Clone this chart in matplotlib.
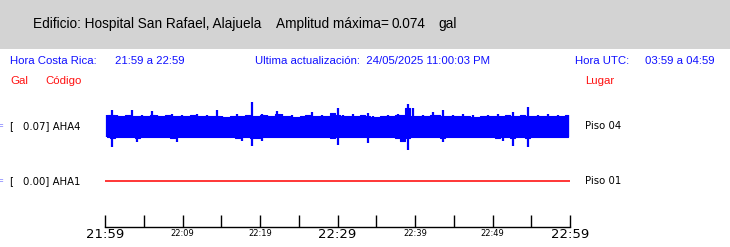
import numpy as np
import matplotlib.pyplot as plt
from matplotlib import font_manager
from matplotlib.patches import Rectangle

# envelope of the AHA4 record (gal), one value per ~0.65 min bin
aha4_upper = [0.034, 0.049, 0.034, 0.031, 0.034, 0.049, 0.031, 0.034, 0.031, 0.046,
              0.034, 0.031, 0.034, 0.037, 0.031, 0.034, 0.031, 0.034, 0.037, 0.031,
              0.034, 0.031, 0.049, 0.031, 0.028, 0.031, 0.037, 0.031, 0.034, 0.074,
              0.031, 0.037, 0.034, 0.031, 0.046, 0.037, 0.031, 0.034, 0.028, 0.031,
              0.034, 0.043, 0.031, 0.034, 0.031, 0.040, 0.055, 0.034, 0.031, 0.037,
              0.031, 0.034, 0.040, 0.031, 0.028, 0.031, 0.034, 0.031, 0.037, 0.034,
              0.068, 0.055, 0.031, 0.034, 0.031, 0.043, 0.034, 0.049, 0.031, 0.034,
              0.031, 0.037, 0.031, 0.034, 0.028, 0.031, 0.034, 0.031, 0.037, 0.031,
              0.034, 0.043, 0.031, 0.034, 0.059, 0.031, 0.034, 0.031, 0.037, 0.031,
              0.034, 0.031, 0.034]
aha4_lower = [-0.034, -0.065, -0.037, -0.034, -0.037, -0.034, -0.049, -0.037, -0.034, -0.037,
              -0.034, -0.037, -0.034, -0.037, -0.049, -0.034, -0.037, -0.034, -0.037, -0.034,
              -0.037, -0.034, -0.037, -0.034, -0.037, -0.034, -0.037, -0.046, -0.034, -0.062,
              -0.037, -0.046, -0.034, -0.037, -0.034, -0.037, -0.034, -0.037, -0.034, -0.037,
              -0.034, -0.037, -0.034, -0.037, -0.034, -0.037, -0.059, -0.034, -0.037, -0.034,
              -0.037, -0.034, -0.052, -0.034, -0.037, -0.034, -0.037, -0.034, -0.037, -0.046,
              -0.074, -0.037, -0.034, -0.037, -0.034, -0.037, -0.034, -0.049, -0.037, -0.034,
              -0.037, -0.034, -0.037, -0.034, -0.037, -0.034, -0.037, -0.034, -0.037, -0.046,
              -0.034, -0.062, -0.037, -0.034, -0.065, -0.037, -0.034, -0.037, -0.034, -0.037,
              -0.034, -0.037, -0.034]
aha1_level = [0.0, 0.0]

tick_minutes = [0, 5, 10, 15, 20, 25, 30, 35, 40, 45, 50, 55, 60]
big_labels = {0: "21:59", 30: "22:29", 60: "22:59"}
small_labels = {10: "22:09", 20: "22:19", 40: "22:39", 50: "22:49"}

W, H = 730, 247
fig = plt.figure(figsize=(W / 100, H / 100), dpi=100)


def fx(x):
    return x / W


def fy(y):
    return 1 - y / H


def txt(x, y, s, **kw):
    kw.setdefault("va", "center")
    kw.setdefault("ha", "left")
    fig.text(fx(x), fy(y), s, **kw)


# grey title band
fig.patches.append(Rectangle((0, fy(49)), 1, 49 / H, transform=fig.transFigure,
                             facecolor="#d3d3d3", edgecolor="none", zorder=0))

# title font is a narrow sans; fall back to a smaller regular one if missing
names = {f.name for f in font_manager.fontManager.ttflist}
if "Liberation Sans Narrow" in names:
    tfam, tsize = "Liberation Sans Narrow", 11.8
else:
    tfam, tsize = "Liberation Sans", 9.8
txt(33, 24, "Edificio: Hospital San Rafael, Alajuela", family=tfam, fontsize=tsize)
txt(276, 24, "Amplitud máxima=", family=tfam, fontsize=tsize)
txt(391, 24, "0.074", family=tfam, fontsize=tsize)
txt(438, 24, "gal", family=tfam, fontsize=tsize)

sans = ["Liberation Sans", "DejaVu Sans"]
blue = "#1010ff"
red = "#ff1010"
txt(10, 61, "Hora Costa Rica:", family=sans, fontsize=8.2, color=blue)
txt(115, 61, "21:59 a 22:59", family=sans, fontsize=8.2, color=blue)
txt(255, 61, "Ultima actualización:  24/05/2025 11:00:03 PM", family=sans, fontsize=8.2, color=blue)
txt(575, 61, "Hora UTC:", family=sans, fontsize=8.2, color=blue)
txt(645, 61, "03:59 a 04:59", family=sans, fontsize=8.2, color=blue)
txt(10, 81, "Gal", family=sans, fontsize=8.2, color=red)
txt(45, 81, "Código", family=sans, fontsize=8.2, color=red)
txt(585, 81, "Lugar", family=sans, fontsize=8.2, color=red)

# station labels
rows = [(126, "0.07] AHA4", "Piso 04"), (181, "0.00] AHA1", "Piso 01")]
for y, lab, piso in rows:
    txt(-4, y, "=", fontsize=7, color="#9090ff")
    txt(9, y, "[", fontsize=7.3)
    txt(23, y, lab, fontsize=7.3)
    txt(585, y, piso, fontsize=7.3)

x0, x1 = 105, 570

# AHA4 trace: body from neighbouring minima, each bin's full swing as a thin stroke
ax1 = fig.add_axes([fx(x0), fy(150), (x1 - x0) / W, 48 / H])
up = np.array(aha4_upper)
lo = np.array(aha4_lower)
t4 = np.linspace(0.3, 59.7, len(up))
body_up = np.minimum(up, np.r_[up[1:], up[-1]])
body_lo = np.maximum(lo, np.r_[lo[1:], lo[-1]])
ax1.fill_between(t4, body_lo, body_up, step="mid", color="#0000ff", lw=0.8)
ax1.vlines(t4, lo, up, color="#0000ff", lw=1.6)
ax1.set_xlim(0, 60)
ax1.set_ylim(-0.074, 0.074)
ax1.axis("off")

# AHA1 trace
ax2 = fig.add_axes([fx(x0), fy(191), (x1 - x0) / W, 20 / H])
ax2.plot([0, 60], aha1_level, color="#ff0000", lw=1.1)
ax2.set_xlim(0, 60)
ax2.set_ylim(-0.074, 0.074)
ax2.axis("off")

# time axis
ax3 = fig.add_axes([fx(x0), fy(227), (x1 - x0) / W, 10 / H])
ax3.set_xlim(0, 60)
ax3.set_ylim(0, 1)
for s in ["top", "left", "right"]:
    ax3.spines[s].set_visible(False)
ax3.spines["bottom"].set_linewidth(1.0)
ax3.set_yticks([])
ax3.set_xticks(tick_minutes)
ax3.set_xticklabels([])
ax3.tick_params(axis="x", direction="in", length=9, width=1.0)
ax3.patch.set_alpha(0)
for m, s in big_labels.items():
    ax3.text(m, -0.7, s, ha="center", va="center", fontsize=9.5,
             transform=ax3.get_xaxis_transform(), clip_on=False)
for m, s in small_labels.items():
    ax3.text(m, -0.6, s, ha="center", va="center", fontsize=6,
             transform=ax3.get_xaxis_transform(), clip_on=False)

fig.savefig("out.png", dpi=100)
